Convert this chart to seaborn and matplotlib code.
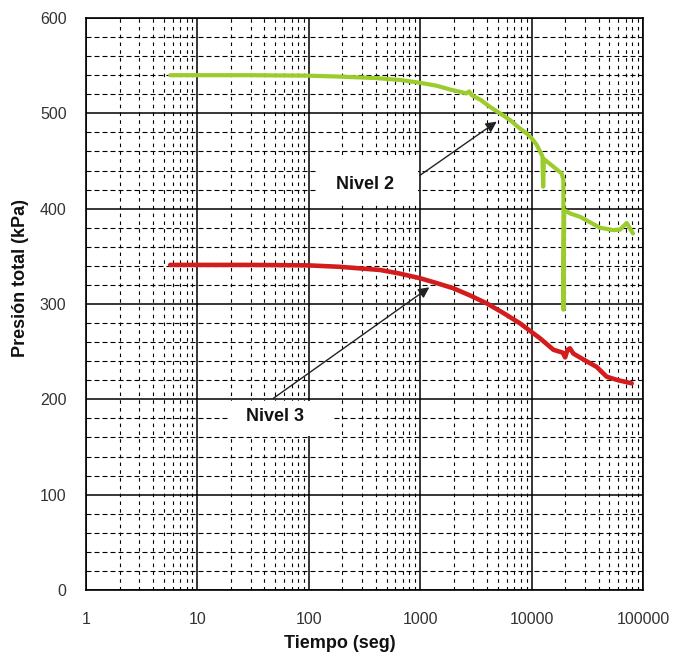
import numpy as np
import pandas as pd
import seaborn as sns
import matplotlib
matplotlib.use("Agg")
import matplotlib.pyplot as plt
from matplotlib.ticker import FixedLocator, NullFormatter, LogLocator, MultipleLocator
from matplotlib.patches import Rectangle

# ---- data ----
nivel2_t = [5.7, 10, 30, 100, 190, 400, 660, 1000, 1400, 1850, 2600, 2750, 2900, 3500, 4200,
            5200, 6400, 7500, 9000, 10000, 11100, 12500, 12700, 12900, 15700, 18600, 19300,
            19300, 19600, 20800, 22100, 27200, 41100, 54000, 62200, 71400, 81300]
nivel2_p = [540, 540, 540, 539.5, 538.5, 537, 535, 532, 529, 525, 521, 523, 519, 514, 507,
            500, 493, 486, 479, 474, 467, 455, 423, 452, 444, 437, 430,
            294, 398, 397, 395, 391.5, 380, 377.5, 378, 385, 374]

nivel3_t = [5.7, 10, 30, 100, 190, 436, 650, 1000, 1400, 1983, 2800, 3950, 5500, 7870, 11900,
            15700, 19000, 20000, 21000, 22100, 23700, 30000, 38400, 47200, 60000, 79200]
nivel3_p = [341, 341, 341, 340.5, 339, 335.7, 332, 327, 322, 316.5, 309, 300.7, 291, 279.7, 264,
            252, 249, 244, 252, 253.5, 248, 241, 234, 223.7, 220, 216.8]

x_ticks = [1, 10, 100, 1000, 10000, 100000]
x_ticklabels = ["1", "10", "100", "1000", "10000", "100000"]
y_ticks = [0, 100, 200, 300, 400, 500, 600]

labels = ["Nivel 2", "Nivel 3"]
label_pos = [(319.5, 425), (49.7, 181.5)]
label_box = [((121, 404), (955, 455)), ((18.8, 162), (161.5, 198.5))]
arrow_tail = [(996, 435), (48, 201)]
arrow_head = [(4863, 491.3), (1208, 317.5)]

df2 = pd.DataFrame({"t": nivel2_t, "p": nivel2_p})
df3 = pd.DataFrame({"t": nivel3_t, "p": nivel3_p})

sns.set_style("white")
plt.rcParams["font.family"] = ["Liberation Sans", "DejaVu Sans"]

fig = plt.figure(figsize=(6.74, 6.58), dpi=100)
ax = fig.add_axes([86 / 674, 1 - 590 / 658, 557 / 674, 572 / 658])

ax.set_xscale("log")
ax.set_xlim(1, 100000)
ax.set_ylim(0, 600)

ax.set_axisbelow(True)
ax.xaxis.set_major_locator(FixedLocator(x_ticks))
ax.set_xticklabels(x_ticklabels)
ax.xaxis.set_minor_locator(LogLocator(base=10, subs=np.arange(2, 10)))
ax.xaxis.set_minor_formatter(NullFormatter())
ax.yaxis.set_major_locator(FixedLocator(y_ticks))
ax.yaxis.set_minor_locator(MultipleLocator(20))

ax.grid(True, which="major", color="black", linewidth=1.1, linestyle="-")
ax.xaxis.grid(True, which="minor", color="black", linewidth=0.8, linestyle=(0, (3.2, 3.8)))
ax.yaxis.grid(True, which="minor", color="black", linewidth=0.8, linestyle=(0, (4.5, 2.7)))

for lab, (p0, p1) in zip(labels, label_box):
    ax.add_patch(Rectangle(p0, p1[0] - p0[0], p1[1] - p0[1], facecolor="white",
                           edgecolor="none", zorder=1))

sns.lineplot(data=df2, x="t", y="p", ax=ax, sort=False, color="#9ccc2c", linewidth=3.0,
             estimator=None, zorder=3)
sns.lineplot(data=df3, x="t", y="p", ax=ax, sort=False, color="#d41c1c", linewidth=3.3,
             estimator=None, zorder=3)

for lab, pos, tail, head in zip(labels, label_pos, arrow_tail, arrow_head):
    ax.text(pos[0], pos[1], lab, ha="center", va="center", fontsize=13,
            fontweight="bold", color="#111111", zorder=4)
    ax.annotate("", xy=head, xytext=tail,
                arrowprops=dict(arrowstyle="-|>", color="#222222", lw=1.0,
                                mutation_scale=16, shrinkA=0, shrinkB=0), zorder=4)

ax.tick_params(axis="both", which="both", length=0, labelsize=11.5, labelcolor="#333333")
ax.tick_params(axis="y", pad=14)
ax.tick_params(axis="x", pad=16)

ax.set_xlabel("Tiempo (seg)", fontsize=13, fontweight="bold", color="#111111")
ax.set_ylabel("Presión total (kPa)", fontsize=13, fontweight="bold", color="#111111")
ax.xaxis.set_label_coords(0.456, -0.078)
ax.yaxis.set_label_coords(-0.103, 0.545)

for s in ax.spines.values():
    s.set_color("black")
    s.set_linewidth(1.2)
    s.set_visible(True)

fig.savefig("out.png", dpi=100, facecolor="white")
